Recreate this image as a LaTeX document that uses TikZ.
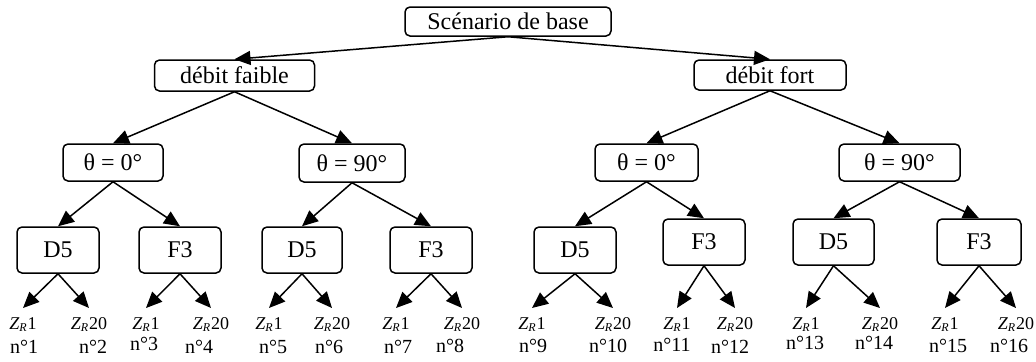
\documentclass[tikz,border=0pt]{standalone}
\usepackage{fontspec}
\setmainfont{Liberation Serif}
\usepackage{tikz}
\usetikzlibrary{arrows.meta}

\begin{document}
\begin{tikzpicture}[
    x=0.5pt, y=-0.5pt,
    box/.style={draw, rounded corners=2.5pt, line width=0.75pt, inner sep=0pt, font=\fontsize{12}{14}\selectfont},
    arrow/.style={-{Triangle[length=8pt,width=7pt]}, line width=0.75pt},
    zlab/.style={anchor=north, inner xsep=0pt, inner ysep=4.5pt, font=\fontsize{9}{10}\selectfont\itshape},
    nlab/.style={anchor=base, inner sep=0pt, font=\fontsize{10}{12}\selectfont}
]
\useasboundingbox (0,0) rectangle (1036,361);

% Root and flow rates
\node[box, minimum width=103pt, minimum height=14.5pt] (base) at (508,21.5) {Scénario de base};
\node[box, minimum width=80pt, minimum height=15.5pt] (faible) at (234.5,75.5) {débit faible};
\node[box, minimum width=76pt, minimum height=15pt] (fort) at (770,75) {débit fort};

% Angles
\node[box, minimum width=50pt, minimum height=18.5pt] (ta) at (113,162.5) {θ = 0°};
\node[box, minimum width=53pt, minimum height=19pt] (tb) at (352,163) {θ = 90°};
\node[box, minimum width=51.5pt, minimum height=18.5pt] (tc) at (646.5,162.5) {θ = 0°};
\node[box, minimum width=60.5pt, minimum height=18.5pt] (td) at (899.5,162.5) {θ = 90°};

% Profiles
\node[box, minimum width=41pt, minimum height=23pt] (d1) at (58,250) {D5};
\node[box, minimum width=41pt, minimum height=23pt] (f1) at (180,250) {F3};
\node[box, minimum width=40pt, minimum height=23pt] (d2) at (302,250) {D5};
\node[box, minimum width=41pt, minimum height=23pt] (f2) at (431,250) {F3};
\node[box, minimum width=41pt, minimum height=23pt] (d3) at (575,250) {D5};
\node[box, minimum width=41pt, minimum height=23pt] (f3) at (704,242) {F3};
\node[box, minimum width=40.5pt, minimum height=23pt] (d4) at (833.5,242) {D5};
\node[box, minimum width=42pt, minimum height=23pt] (f4) at (979,242) {F3};

% Leaves: Z_R value and case number
\node[zlab] (z1) at (23,308) {Z\textsubscript{R}\upshape 1};
\node[zlab] (z2) at (89,308) {Z\textsubscript{R}\upshape 20};
\node[zlab] (z3) at (146,308) {Z\textsubscript{R}\upshape 1};
\node[zlab] (z4) at (211,308) {Z\textsubscript{R}\upshape 20};
\node[zlab] (z5) at (269,308) {Z\textsubscript{R}\upshape 1};
\node[zlab] (z6) at (332,308) {Z\textsubscript{R}\upshape 20};
\node[zlab] (z7) at (396,308) {Z\textsubscript{R}\upshape 1};
\node[zlab] (z8) at (462,308) {Z\textsubscript{R}\upshape 20};
\node[zlab] (z9) at (532,308) {Z\textsubscript{R}\upshape 1};
\node[zlab] (z10) at (613,308) {Z\textsubscript{R}\upshape 20};
\node[zlab] (z11) at (677,308) {Z\textsubscript{R}\upshape 1};
\node[zlab] (z12) at (735,308) {Z\textsubscript{R}\upshape 20};
\node[zlab] (z13) at (806,308) {Z\textsubscript{R}\upshape 1};
\node[zlab] (z14) at (880,308) {Z\textsubscript{R}\upshape 20};
\node[zlab] (z15) at (945,308) {Z\textsubscript{R}\upshape 1};
\node[zlab] (z16) at (1016,308) {Z\textsubscript{R}\upshape 20};

\node[nlab] (n1) at (24,353) {n°1};
\node[nlab] (n2) at (93,353) {n°2};
\node[nlab] (n3) at (144,350) {n°3};
\node[nlab] (n4) at (199,353) {n°4};
\node[nlab] (n5) at (273,353) {n°5};
\node[nlab] (n6) at (329,353) {n°6};
\node[nlab] (n7) at (398,353) {n°7};
\node[nlab] (n8) at (450,352) {n°8};
\node[nlab] (n9) at (533,352) {n°9};
\node[nlab] (n10) at (608,352) {n°10};
\node[nlab] (n11) at (672,351) {n°11};
\node[nlab] (n12) at (730,353) {n°12};
\node[nlab] (n13) at (805,349) {n°13};
\node[nlab] (n14) at (874,349) {n°14};
\node[nlab] (n15) at (948,352) {n°15};
\node[nlab] (n16) at (1009,352) {n°16};

% Arrows
\draw[arrow] (base.south) -- (faible.north);
\draw[arrow] (base.south) -- (fort.north);
\draw[arrow] (faible.south) -- (ta.north);
\draw[arrow] (faible.south) -- (tb.north);
\draw[arrow] (fort.south) -- (tc.north);
\draw[arrow] (fort.south) -- (td.north);
\draw[arrow] (ta.south) -- (d1.north);
\draw[arrow] (ta.south) -- (f1.north);
\draw[arrow] (tb.south) -- (d2.north);
\draw[arrow] (tb.south) -- (f2.north);
\draw[arrow] (tc.south) -- (d3.north);
\draw[arrow] (tc.south) -- (f3.north);
\draw[arrow] (td.south) -- (d4.north);
\draw[arrow] (td.south) -- (f4.north);
\draw[arrow] (d1.south) -- (z1.north);
\draw[arrow] (d1.south) -- (z2.north);
\draw[arrow] (f1.south) -- (z3.north);
\draw[arrow] (f1.south) -- (z4.north);
\draw[arrow] (d2.south) -- (z5.north);
\draw[arrow] (d2.south) -- (z6.north);
\draw[arrow] (f2.south) -- (z7.north);
\draw[arrow] (f2.south) -- (z8.north);
\draw[arrow] (d3.south) -- (z9.north);
\draw[arrow] (d3.south) -- (z10.north);
\draw[arrow] (f3.south) -- (z11.north);
\draw[arrow] (f3.south) -- (z12.north);
\draw[arrow] (d4.south) -- (z13.north);
\draw[arrow] (d4.south) -- (z14.north);
\draw[arrow] (f4.south) -- (z15.north);
\draw[arrow] (f4.south) -- (z16.north);
\end{tikzpicture}
\end{document}
